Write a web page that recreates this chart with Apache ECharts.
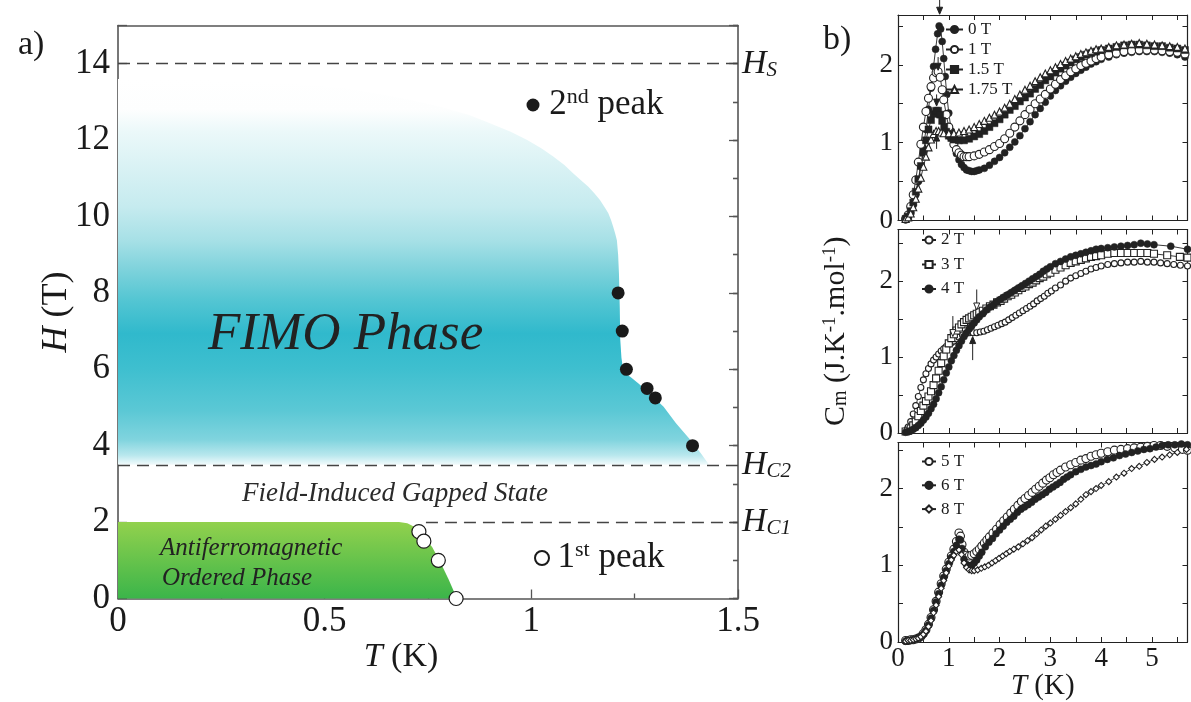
<!DOCTYPE html>
<html><head><meta charset="utf-8">
<script src="https://cdn.jsdelivr.net/npm/echarts@6/dist/echarts.min.js"></script>
<style>html,body{margin:0;padding:0;background:#fff}#c{width:1191px;height:702px}</style>
</head><body><div id="c"></div>
<script>
// ---------------- DATA ----------------
// Panel a) phase diagram (T in K, H in T)
const peak2nd = [[1.21, 8.0], [1.22, 7.0], [1.23, 6.0], [1.28, 5.5], [1.30, 5.25], [1.39, 4.0]];
const peak1st = [[0.728, 1.75], [0.74, 1.5], [0.775, 1.0], [0.818, 0.0]];
const fimoBoundary = [[0, 13.6], [0.2, 13.58], [0.35, 13.52], [0.46, 13.45], [0.55, 13.36], [0.626, 13.22], [0.7, 13.07], [0.78, 12.87], [0.85, 12.66], [0.9, 12.44], [0.95, 12.22], [0.99, 12.0], [1.025, 11.78], [1.053, 11.57], [1.08, 11.35], [1.101, 11.13], [1.12, 10.95], [1.138, 10.78], [1.153, 10.6], [1.166, 10.43], [1.177, 10.25], [1.186, 10.09], [1.193, 9.9], [1.198, 9.73], [1.203, 9.55], [1.207, 9.38], [1.21, 9.0], [1.212, 8.51], [1.214, 7.6], [1.215, 6.8], [1.218, 6.3], [1.222, 6.0], [1.23, 5.87], [1.24, 5.8], [1.26, 5.62], [1.29, 5.33], [1.32, 5.02], [1.35, 4.59], [1.385, 4.15], [1.41, 3.8], [1.43, 3.5]];
const fimoBase = 3.5;
const afmBoundary = [[0, 2], [0.68, 2], [0.70, 1.97], [0.72, 1.86], [0.74, 1.62], [0.76, 1.35], [0.78, 0.95], [0.80, 0.5], [0.82, 0]];
const afmBase = 0;
const fieldHS = 14, fieldHC2 = 3.5, fieldHC1 = 2;
const hc1Start = 0.745;
const hTicks = [0, 2, 4, 6, 8, 10, 12, 14];

// Panel b) specific heat Cm (J/K/mol) vs T (K)
const cm0T = [[0.15,0.01],[0.2,0.04],[0.25,0.1],[0.3,0.2],[0.35,0.33],[0.4,0.5],[0.45,0.7],[0.5,0.93],[0.55,1.17],[0.6,1.43],[0.65,1.7],[0.7,1.98],[0.74,2.2],[0.78,2.4],[0.81,2.5],[0.84,2.46],[0.87,2.3],[0.9,2.08],[0.93,1.85],[0.96,1.62],[1.0,1.38],[1.05,1.15],[1.1,0.98],[1.15,0.86],[1.2,0.78],[1.25,0.72],[1.3,0.68],[1.35,0.65],[1.4,0.64],[1.45,0.63],[1.5,0.63],[1.55,0.64],[1.6,0.65],[1.7,0.67],[1.8,0.71],[1.9,0.76],[2.0,0.81],[2.1,0.87],[2.2,0.94],[2.3,1.01],[2.4,1.09],[2.5,1.18],[2.6,1.27],[2.7,1.36],[2.8,1.44],[2.9,1.52],[3.0,1.6],[3.1,1.67],[3.2,1.73],[3.3,1.79],[3.4,1.84],[3.5,1.89],[3.6,1.93],[3.7,1.97],[3.8,2.01],[3.9,2.04],[4.0,2.07],[4.15,2.1],[4.3,2.13],[4.45,2.15],[4.6,2.16],[4.75,2.17],[4.9,2.17],[5.05,2.17],[5.2,2.16],[5.35,2.15],[5.5,2.13],[5.65,2.1]];
const cm1T = [[0.15,0.02],[0.2,0.07],[0.25,0.18],[0.3,0.33],[0.35,0.52],[0.4,0.75],[0.45,0.98],[0.5,1.2],[0.55,1.4],[0.6,1.57],[0.65,1.72],[0.7,1.83],[0.75,1.9],[0.79,1.91],[0.83,1.84],[0.87,1.68],[0.9,1.55],[0.95,1.36],[1.0,1.2],[1.05,1.07],[1.1,0.98],[1.15,0.91],[1.2,0.87],[1.25,0.84],[1.3,0.82],[1.35,0.82],[1.4,0.82],[1.5,0.83],[1.6,0.85],[1.7,0.88],[1.8,0.91],[1.9,0.95],[2.0,0.99],[2.1,1.05],[2.2,1.12],[2.3,1.2],[2.4,1.28],[2.5,1.36],[2.6,1.43],[2.7,1.5],[2.8,1.56],[2.9,1.62],[3.0,1.69],[3.1,1.75],[3.2,1.81],[3.3,1.86],[3.4,1.91],[3.5,1.95],[3.6,1.99],[3.7,2.02],[3.8,2.05],[3.9,2.08],[4.0,2.1],[4.15,2.13],[4.3,2.15],[4.45,2.17],[4.6,2.18],[4.75,2.19],[4.9,2.19],[5.05,2.19],[5.2,2.18],[5.35,2.17],[5.5,2.16],[5.65,2.14]];
const cm15T = [[0.15,0.02],[0.2,0.05],[0.25,0.12],[0.3,0.23],[0.35,0.37],[0.4,0.53],[0.45,0.7],[0.5,0.87],[0.55,1.03],[0.6,1.17],[0.65,1.29],[0.7,1.37],[0.75,1.41],[0.79,1.41],[0.83,1.36],[0.87,1.28],[0.91,1.2],[0.95,1.14],[1.0,1.09],[1.05,1.06],[1.1,1.04],[1.2,1.03],[1.3,1.03],[1.4,1.05],[1.5,1.08],[1.6,1.11],[1.7,1.15],[1.8,1.2],[1.9,1.25],[2.0,1.3],[2.1,1.36],[2.2,1.42],[2.3,1.47],[2.4,1.53],[2.5,1.58],[2.6,1.63],[2.7,1.69],[2.8,1.74],[2.9,1.8],[3.0,1.85],[3.1,1.9],[3.2,1.95],[3.3,1.99],[3.4,2.03],[3.5,2.07],[3.6,2.1],[3.7,2.13],[3.8,2.15],[3.9,2.17],[4.0,2.19],[4.15,2.21],[4.3,2.23],[4.45,2.25],[4.6,2.26],[4.75,2.26],[4.9,2.25],[5.05,2.24],[5.2,2.24],[5.35,2.22],[5.5,2.21],[5.65,2.19]];
const cm175T = [[0.15,0.02],[0.2,0.04],[0.25,0.09],[0.3,0.17],[0.35,0.28],[0.4,0.41],[0.45,0.55],[0.5,0.69],[0.55,0.82],[0.6,0.94],[0.65,1.04],[0.7,1.11],[0.75,1.15],[0.8,1.15],[0.85,1.13],[0.9,1.12],[1.0,1.12],[1.1,1.12],[1.2,1.13],[1.3,1.15],[1.4,1.17],[1.5,1.2],[1.6,1.24],[1.7,1.28],[1.8,1.32],[1.9,1.36],[2.0,1.4],[2.1,1.45],[2.2,1.5],[2.3,1.56],[2.4,1.62],[2.5,1.68],[2.6,1.73],[2.7,1.79],[2.8,1.84],[2.9,1.89],[3.0,1.93],[3.1,1.97],[3.2,2.01],[3.3,2.05],[3.4,2.08],[3.5,2.11],[3.6,2.14],[3.7,2.16],[3.8,2.18],[3.9,2.2],[4.0,2.21],[4.15,2.23],[4.3,2.25],[4.45,2.26],[4.6,2.27],[4.75,2.28],[4.9,2.27],[5.05,2.26],[5.2,2.25],[5.35,2.24],[5.5,2.23],[5.65,2.21]];
const cm2T = [[0.15,0.03],[0.2,0.08],[0.25,0.15],[0.3,0.25],[0.35,0.36],[0.4,0.48],[0.45,0.6],[0.5,0.7],[0.55,0.78],[0.6,0.85],[0.65,0.91],[0.7,0.96],[0.75,1.0],[0.8,1.04],[0.85,1.08],[0.9,1.11],[0.95,1.14],[1.0,1.17],[1.05,1.19],[1.1,1.21],[1.15,1.24],[1.2,1.26],[1.27,1.29],[1.34,1.31],[1.41,1.32],[1.48,1.32],[1.55,1.32],[1.62,1.33],[1.69,1.34],[1.76,1.36],[1.83,1.38],[1.9,1.4],[1.97,1.42],[2.04,1.44],[2.11,1.46],[2.18,1.49],[2.25,1.52],[2.32,1.55],[2.39,1.58],[2.46,1.61],[2.53,1.64],[2.6,1.67],[2.67,1.7],[2.74,1.74],[2.81,1.77],[2.88,1.8],[2.95,1.84],[3.02,1.87],[3.1,1.91],[3.2,1.95],[3.3,2.0],[3.4,2.04],[3.5,2.07],[3.6,2.1],[3.7,2.13],[3.8,2.16],[3.9,2.18],[4.0,2.2],[4.13,2.22],[4.26,2.23],[4.39,2.24],[4.52,2.25],[4.65,2.25],[4.78,2.26],[4.91,2.25],[5.04,2.25],[5.17,2.24],[5.3,2.23],[5.43,2.22],[5.56,2.21],[5.7,2.2]];
const cm3T = [[0.15,0.02],[0.2,0.03],[0.25,0.06],[0.3,0.1],[0.35,0.15],[0.4,0.22],[0.45,0.29],[0.5,0.36],[0.55,0.42],[0.6,0.48],[0.65,0.55],[0.7,0.63],[0.75,0.72],[0.8,0.82],[0.85,0.92],[0.9,1.01],[0.95,1.1],[1.0,1.18],[1.05,1.25],[1.1,1.3],[1.15,1.35],[1.2,1.39],[1.25,1.43],[1.3,1.46],[1.35,1.49],[1.4,1.51],[1.45,1.53],[1.5,1.55],[1.55,1.57],[1.6,1.59],[1.67,1.61],[1.74,1.64],[1.81,1.67],[1.88,1.69],[1.95,1.72],[2.02,1.74],[2.09,1.77],[2.16,1.8],[2.23,1.82],[2.3,1.85],[2.37,1.88],[2.44,1.91],[2.51,1.93],[2.58,1.96],[2.65,1.98],[2.72,2.01],[2.79,2.04],[2.86,2.06],[2.93,2.09],[3.0,2.11],[3.1,2.15],[3.2,2.18],[3.3,2.21],[3.4,2.24],[3.5,2.26],[3.6,2.28],[3.7,2.3],[3.8,2.32],[3.9,2.33],[4.0,2.34],[4.13,2.36],[4.26,2.37],[4.39,2.37],[4.52,2.37],[4.65,2.37],[4.78,2.37],[4.91,2.37],[5.04,2.36],[5.3,2.34],[5.55,2.32],[5.7,2.31]];
const cm4T = [[0.15,0.01],[0.2,0.02],[0.25,0.03],[0.3,0.05],[0.35,0.07],[0.4,0.1],[0.45,0.13],[0.5,0.17],[0.55,0.21],[0.6,0.26],[0.65,0.32],[0.7,0.38],[0.75,0.45],[0.8,0.53],[0.85,0.61],[0.9,0.7],[0.95,0.79],[1.0,0.87],[1.05,0.95],[1.1,1.02],[1.15,1.09],[1.2,1.15],[1.25,1.21],[1.3,1.27],[1.35,1.32],[1.4,1.37],[1.45,1.41],[1.5,1.45],[1.55,1.49],[1.6,1.53],[1.67,1.57],[1.74,1.62],[1.81,1.66],[1.88,1.69],[1.95,1.73],[2.02,1.76],[2.09,1.79],[2.16,1.82],[2.23,1.85],[2.3,1.88],[2.37,1.91],[2.44,1.94],[2.51,1.97],[2.58,2.0],[2.65,2.03],[2.72,2.06],[2.79,2.09],[2.86,2.13],[2.93,2.16],[3.0,2.19],[3.1,2.23],[3.2,2.26],[3.3,2.29],[3.4,2.32],[3.5,2.34],[3.6,2.36],[3.7,2.38],[3.8,2.4],[3.9,2.42],[4.0,2.43],[4.13,2.44],[4.26,2.45],[4.39,2.46],[4.52,2.47],[4.65,2.48],[4.78,2.5],[4.91,2.49],[5.04,2.48],[5.37,2.46],[5.7,2.42]];
const cm5T = [[0.15,0.02],[0.2,0.02],[0.25,0.03],[0.3,0.03],[0.35,0.04],[0.4,0.05],[0.45,0.07],[0.5,0.11],[0.55,0.16],[0.6,0.23],[0.65,0.32],[0.7,0.42],[0.75,0.53],[0.8,0.65],[0.85,0.76],[0.9,0.86],[0.95,0.95],[1.0,1.04],[1.05,1.12],[1.1,1.21],[1.15,1.31],[1.2,1.42],[1.23,1.38],[1.26,1.27],[1.3,1.17],[1.35,1.13],[1.4,1.12],[1.45,1.13],[1.5,1.15],[1.55,1.18],[1.6,1.21],[1.65,1.25],[1.7,1.29],[1.75,1.33],[1.8,1.37],[1.87,1.42],[1.94,1.47],[2.01,1.53],[2.08,1.58],[2.15,1.63],[2.22,1.68],[2.29,1.73],[2.36,1.78],[2.43,1.83],[2.5,1.87],[2.57,1.91],[2.64,1.95],[2.71,1.99],[2.78,2.03],[2.85,2.07],[2.92,2.11],[2.99,2.14],[3.06,2.18],[3.13,2.21],[3.2,2.24],[3.3,2.28],[3.4,2.31],[3.5,2.34],[3.6,2.37],[3.7,2.39],[3.8,2.42],[3.9,2.44],[4.0,2.46],[4.13,2.48],[4.26,2.5],[4.39,2.51],[4.52,2.52],[4.65,2.53],[4.78,2.54],[4.91,2.55],[5.04,2.56],[5.17,2.56],[5.3,2.55],[5.45,2.53],[5.6,2.51],[5.7,2.5]];
const cm6T = [[0.15,0.01],[0.2,0.02],[0.25,0.02],[0.3,0.03],[0.35,0.04],[0.4,0.05],[0.45,0.07],[0.5,0.1],[0.55,0.15],[0.6,0.22],[0.65,0.31],[0.7,0.41],[0.75,0.52],[0.8,0.63],[0.85,0.74],[0.9,0.84],[0.95,0.93],[1.0,1.02],[1.05,1.1],[1.1,1.18],[1.15,1.26],[1.2,1.34],[1.23,1.33],[1.26,1.22],[1.3,1.08],[1.35,1.01],[1.4,0.99],[1.45,1.0],[1.5,1.03],[1.55,1.07],[1.6,1.12],[1.65,1.17],[1.72,1.24],[1.79,1.3],[1.86,1.35],[1.93,1.41],[2.0,1.46],[2.07,1.51],[2.14,1.56],[2.21,1.6],[2.28,1.64],[2.35,1.69],[2.42,1.73],[2.49,1.76],[2.56,1.79],[2.63,1.82],[2.7,1.86],[2.77,1.89],[2.84,1.92],[2.91,1.95],[2.98,1.99],[3.05,2.02],[3.12,2.05],[3.19,2.08],[3.26,2.12],[3.33,2.15],[3.4,2.18],[3.5,2.22],[3.6,2.25],[3.7,2.28],[3.8,2.3],[3.9,2.32],[4.0,2.35],[4.12,2.38],[4.24,2.4],[4.36,2.43],[4.48,2.45],[4.6,2.47],[4.72,2.49],[4.84,2.51],[4.96,2.52],[5.08,2.54],[5.2,2.56],[5.32,2.57],[5.45,2.57],[5.58,2.58],[5.7,2.57]];
const cm8T = [[0.15,0.01],[0.2,0.02],[0.25,0.02],[0.3,0.03],[0.35,0.04],[0.4,0.05],[0.45,0.07],[0.5,0.1],[0.55,0.14],[0.6,0.2],[0.65,0.28],[0.7,0.38],[0.75,0.48],[0.8,0.59],[0.85,0.7],[0.9,0.8],[0.95,0.9],[1.0,0.99],[1.05,1.07],[1.1,1.13],[1.15,1.18],[1.2,1.2],[1.25,1.14],[1.3,1.03],[1.35,0.97],[1.4,0.94],[1.45,0.93],[1.5,0.93],[1.57,0.94],[1.64,0.96],[1.71,0.98],[1.78,1.0],[1.85,1.03],[1.92,1.06],[1.99,1.09],[2.06,1.12],[2.13,1.15],[2.2,1.18],[2.28,1.21],[2.37,1.24],[2.46,1.28],[2.55,1.32],[2.64,1.36],[2.73,1.41],[2.82,1.46],[2.91,1.51],[3.0,1.55],[3.1,1.6],[3.2,1.65],[3.3,1.7],[3.4,1.75],[3.5,1.8],[3.6,1.86],[3.7,1.92],[3.8,1.96],[3.9,2.0],[4.0,2.04],[4.15,2.09],[4.3,2.15],[4.45,2.2],[4.6,2.26],[4.75,2.29],[4.9,2.34],[5.05,2.38],[5.2,2.41],[5.35,2.44],[5.5,2.47],[5.68,2.51]];
// transition arrows: [T, from Cm, to Cm, open head (1) / filled (0)]
const arrowsTop = [[0.82, 2.84, 2.65, 0], [0.79, 2.10, 1.93, 0], [0.76, 1.62, 1.47, 0], [0.76, 0.92, 1.11, 0]];
const arrowsMid = [[1.08, 1.54, 1.27, 1], [1.55, 1.89, 1.62, 1], [1.47, 0.96, 1.27, 0]];
const tTicks = [0, 1, 2, 3, 4, 5];
const cmTicks = [0, 1, 2];

// ---------------- STYLE ----------------
const SERIF = '"Liberation Serif", "Times New Roman", serif';
const INK = '#1a1a1a';
const AX = '#555';

const chart = echarts.init(document.getElementById('c'), null, {renderer: 'canvas'});

function polygonRenderer(boundary, base, stops) {
  return function (params, api) {
    const pts = boundary.map(p => api.coord(p));
    const last = boundary[boundary.length - 1];
    pts.push(api.coord([last[0], base]));
    pts.push(api.coord([boundary[0][0], base]));
    return {type: 'polygon', shape: {points: pts},
      style: {fill: {type: 'linear', x: 0, y: 0, x2: 0, y2: 1, colorStops: stops}}};
  };
}
function arrowRenderer(params, api) {
  const t = api.value(0), c1 = api.value(1), c2 = api.value(2), open = api.value(3);
  const p1 = api.coord([t, c1]), p2 = api.coord([t, c2]);
  const dir = p2[1] > p1[1] ? 1 : -1;
  const hl = 7, hw = 3;
  const by = p2[1] - dir * hl;
  return {type: 'group', children: [
    {type: 'line', shape: {x1: p1[0], y1: p1[1], x2: p2[0], y2: by}, style: {stroke: '#222', lineWidth: 1}},
    {type: 'polygon', shape: {points: [[p2[0], p2[1]], [p2[0] - hw, by], [p2[0] + hw, by]]},
      style: {fill: open ? '#fff' : '#222', stroke: '#222', lineWidth: 1}}
  ]};
}
const isInt = v => Math.abs(v - Math.round(v)) < 1e-6;

// ---------- axes ----------
const xAxes = [
  {gridIndex: 0, type: 'value', min: 0, max: 1.5, interval: 0.5,
    axisLine: {onZero: false, lineStyle: {color: AX, width: 1.6}},
    axisTick: {inside: true, length: 9, lineStyle: {color: AX, width: 1.3}},
    minorTick: {show: true, splitNumber: 2, length: 5, lineStyle: {color: AX, width: 1.3}},
    splitLine: {show: false},
    axisLabel: {fontSize: 35, fontFamily: SERIF, color: INK, margin: 6},
    name: '{i|T} (K)', nameLocation: 'middle', nameGap: 42, nameMoveOverlap: false,
    nameTextStyle: {fontSize: 34, fontFamily: SERIF, color: INK, padding: [0, 54, 0, 0],
      rich: {i: {fontSize: 34, fontFamily: SERIF, fontStyle: 'italic', color: INK}}}},
  {gridIndex: 0, type: 'value', position: 'top', min: 0, max: 1.5, interval: 0.5,
    axisLine: {onZero: false, lineStyle: {color: AX, width: 1.6}}, axisTick: {show: false},
    axisLabel: {show: false}, splitLine: {show: false}}
];
const yAxes = [
  {gridIndex: 0, type: 'value', min: 0, max: 15, interval: 2,
    axisLine: {onZero: false, lineStyle: {color: AX, width: 1.6}},
    axisTick: {inside: true, length: 9, lineStyle: {color: AX, width: 1.3}},
    splitLine: {show: false},
    axisLabel: {fontSize: 35, fontFamily: SERIF, color: INK, margin: 8,
      formatter: v => hTicks.indexOf(v) >= 0 ? String(v) : ''},
    name: '{i|H} (T)', nameLocation: 'middle', nameRotate: 90, nameGap: 43, nameMoveOverlap: false,
    nameTextStyle: {fontSize: 36, fontFamily: SERIF, color: INK,
      rich: {i: {fontSize: 36, fontFamily: SERIF, fontStyle: 'italic', color: INK}}}},
  {gridIndex: 0, type: 'value', min: 0, max: 15, interval: 1,
    axisLine: {show: false, onZero: false}, axisTick: {inside: true, length: 5, lineStyle: {color: AX, width: 1.3}},
    axisLabel: {show: false}, splitLine: {show: false}},
  {gridIndex: 0, type: 'value', position: 'right', min: 0, max: 15, interval: 2,
    axisLine: {onZero: false, lineStyle: {color: AX, width: 1.6}},
    axisTick: {inside: true, length: 9, lineStyle: {color: AX, width: 1.3}},
    axisLabel: {show: false}, splitLine: {show: false}},
  {gridIndex: 0, type: 'value', position: 'right', min: 0, max: 15, interval: 1,
    axisLine: {show: false, onZero: false}, axisTick: {inside: true, length: 5, lineStyle: {color: AX, width: 1.3}},
    axisLabel: {show: false}, splitLine: {show: false}}
];
const panelMax = [2.64, 2.68, 2.6];
for (let g = 1; g <= 3; g++) {
  const last = g === 3;
  xAxes.push({gridIndex: g, type: 'value', min: 0, max: 5.7, interval: 0.5,
    axisLine: {onZero: false, lineStyle: {color: '#222', width: 1.2}},
    axisTick: {inside: true, length: 5, lineStyle: {color: '#222'}},
    splitLine: {show: false},
    axisLabel: {show: last, fontSize: 27, fontFamily: SERIF, color: INK, margin: 3,
      formatter: v => (isInt(v) && tTicks.indexOf(Math.round(v)) >= 0) ? String(Math.round(v)) : ''},
    name: last ? '{i|T} (K)' : '', nameLocation: 'middle', nameGap: 30, nameMoveOverlap: false,
    nameTextStyle: {fontSize: 29, fontFamily: SERIF, color: INK,
      rich: {i: {fontSize: 29, fontFamily: SERIF, fontStyle: 'italic', color: INK}}}});
  xAxes.push({gridIndex: g, type: 'value', position: 'top', min: 0, max: 5.7, interval: 0.5,
    axisLine: {onZero: false, lineStyle: {color: '#222', width: 1.2}},
    axisTick: {inside: true, length: 5, lineStyle: {color: '#222'}},
    axisLabel: {show: false}, splitLine: {show: false}});
  yAxes.push({gridIndex: g, type: 'value', min: 0, max: panelMax[g - 1], interval: 0.5,
    axisLine: {onZero: false, lineStyle: {color: '#222', width: 1.2}},
    axisTick: {inside: true, length: 5, lineStyle: {color: '#222'}},
    splitLine: {show: false},
    axisLabel: {fontSize: 27, fontFamily: SERIF, color: INK, margin: 5,
      formatter: v => (isInt(v) && cmTicks.indexOf(Math.round(v)) >= 0) ? String(Math.round(v)) : ''},
    name: g === 2 ? '{n|C}{sb|m}{n| (J.K}{sp|-1}{n|.mol}{sp|-1}{n|)}' : '',
    nameLocation: 'middle', nameRotate: 90, nameGap: 47, nameMoveOverlap: false,
    nameTextStyle: {fontSize: 30, fontFamily: SERIF, color: INK,
      rich: {n: {fontSize: 30, fontFamily: SERIF, color: INK},
             sb: {fontSize: 20, fontFamily: SERIF, color: INK, verticalAlign: 'bottom'},
             sp: {fontSize: 19, fontFamily: SERIF, color: INK, verticalAlign: 'top'}}}});
  yAxes.push({gridIndex: g, type: 'value', position: 'right', min: 0, max: panelMax[g - 1], interval: 0.5,
    axisLine: {onZero: false, lineStyle: {color: '#222', width: 1.2}},
    axisTick: {inside: true, length: 5, lineStyle: {color: '#222'}},
    axisLabel: {show: false}, splitLine: {show: false}});
}

// ---------- series ----------
const lineBase = {type: 'line', symbolSize: 6, showAllSymbol: true, animation: false,
  lineStyle: {color: '#222', width: 0.9}};
function cmSeries(name, data, grid, symbol, size, open) {
  return Object.assign({}, lineBase, {
    name, data, xAxisIndex: 2 + (grid - 1) * 2, yAxisIndex: 4 + (grid - 1) * 2,
    symbol, symbolSize: size,
    itemStyle: open ? {color: '#fff', borderColor: '#222', borderWidth: 1.1} : {color: '#222', borderColor: '#222', borderWidth: 0.5}
  });
}

const hLabelRich = {
  h: {fontSize: 34, fontFamily: SERIF, fontStyle: 'italic', color: INK, lineHeight: 34},
  s: {fontSize: 21, fontFamily: SERIF, fontStyle: 'italic', color: INK, verticalAlign: 'bottom', lineHeight: 21}
};

const series = [
  {type: 'custom', name: 'FIMO', xAxisIndex: 0, yAxisIndex: 0, z: 1, silent: true,
    data: [[0, fimoBase]],
    renderItem: polygonRenderer(fimoBoundary, fimoBase, [
      {offset: 0, color: '#ffffff'}, {offset: 0.08, color: '#fdfefe'}, {offset: 0.14, color: '#eaf8f9'},
      {offset: 0.33, color: '#c6ebef'}, {offset: 0.42, color: '#a6e0e6'}, {offset: 0.49, color: '#80d3dc'},
      {offset: 0.57, color: '#55c6d3'}, {offset: 0.66, color: '#30b9cc'}, {offset: 0.75, color: '#3ebfcf'},
      {offset: 0.86, color: '#5bc8d5'}, {offset: 0.935, color: '#80d4de'}, {offset: 0.975, color: '#b8e7ed'},
      {offset: 1, color: '#f2fbfc'}]),
    markLine: {silent: true, symbol: ['none', 'none'], animation: false,
      lineStyle: {color: '#444', width: 1.3, type: [12, 7]},
      label: {show: true, position: 'end', distance: 4, rich: hLabelRich},
      data: [
        {yAxis: fieldHS, label: {formatter: '{h|H}{s|S}'}},
        {yAxis: fieldHC2, label: {formatter: '{h|H}{s|C2}'}},
        [{coord: [hc1Start, fieldHC1]}, {coord: [1.5, fieldHC1], label: {formatter: '{h|H}{s|C1}'}}]
      ]}},
  {type: 'custom', name: 'AFM', xAxisIndex: 0, yAxisIndex: 0, z: 2, silent: true,
    data: [[0, afmBase]],
    renderItem: polygonRenderer(afmBoundary, afmBase, [
      {offset: 0, color: '#92d14d'}, {offset: 1, color: '#3bb54a'}])},
  {type: 'scatter', name: '2nd peak', xAxisIndex: 0, yAxisIndex: 0, z: 5, data: peak2nd,
    symbol: 'circle', symbolSize: 13, itemStyle: {color: '#1a1a1a', opacity: 1}, animation: false},
  {type: 'scatter', name: '1st peak', xAxisIndex: 0, yAxisIndex: 0, z: 5, data: peak1st,
    symbol: 'circle', symbolSize: 14, itemStyle: {color: '#fff', borderColor: '#1a1a1a', borderWidth: 1.2, opacity: 1}, animation: false},
  cmSeries('0 T', cm0T, 1, 'circle', 7, false),
  cmSeries('1 T', cm1T, 1, 'circle', 8, true),
  cmSeries('1.5 T', cm15T, 1, 'rect', 7, false),
  cmSeries('1.75 T', cm175T, 1, 'triangle', 7, true),
  cmSeries('2 T', cm2T, 2, 'circle', 6, true),
  cmSeries('3 T', cm3T, 2, 'rect', 7, true),
  cmSeries('4 T', cm4T, 2, 'circle', 7, false),
  cmSeries('5 T', cm5T, 3, 'circle', 8, true),
  cmSeries('6 T', cm6T, 3, 'circle', 7, false),
  cmSeries('8 T', cm8T, 3, 'diamond', 6, true),
  {type: 'custom', name: 'arrowsTop', xAxisIndex: 2, yAxisIndex: 4, z: 6, silent: true, clip: false,
    data: arrowsTop, renderItem: arrowRenderer},
  {type: 'custom', name: 'arrowsMid', xAxisIndex: 4, yAxisIndex: 6, z: 6, silent: true, clip: false,
    data: arrowsMid, renderItem: arrowRenderer}
];

const peakRich = {
  n: {fontSize: 35, fontFamily: SERIF, color: INK, lineHeight: 38},
  s: {fontSize: 22, fontFamily: SERIF, color: INK, verticalAlign: 'top', lineHeight: 38}
};
const smallLegendText = {fontSize: 17, fontFamily: SERIF, color: INK, lineHeight: 17};

const option = {
  backgroundColor: '#fff',
  animation: false,
  grid: [
    {left: 118, right: 453, top: 25.5, bottom: 103.5},
    {left: 898, right: 3.5, top: 15, bottom: 481.5},
    {left: 898, right: 3.5, top: 229.5, bottom: 269},
    {left: 898, right: 3.5, top: 442.5, bottom: 56}
  ],
  xAxis: xAxes,
  yAxis: yAxes,
  legend: [
    {data: ['2nd peak'], left: 526.5, top: 86, padding: 0, itemWidth: 22.5, itemHeight: 13, selectedMode: false,
      formatter: () => '{n|2}{s|nd}{n| peak}', textStyle: {rich: peakRich}},
    {data: ['1st peak'], left: 534, top: 539, padding: 0, itemWidth: 21, itemHeight: 14, selectedMode: false,
      formatter: () => '{n|1}{s|st}{n| peak}', textStyle: {rich: peakRich}},
    {data: ['0 T', '1 T', '1.5 T', '1.75 T'], orient: 'vertical', left: 945, top: 21, padding: 0, itemGap: 3,
      itemWidth: 17, itemHeight: 9, selectedMode: false, textStyle: smallLegendText},
    {data: ['2 T', '3 T', '4 T'], orient: 'vertical', left: 921, top: 231.5, padding: 0, itemGap: 7.5,
      itemWidth: 14, itemHeight: 9, selectedMode: false, textStyle: smallLegendText},
    {data: ['5 T', '6 T', '8 T'], orient: 'vertical', left: 921, top: 453, padding: 0, itemGap: 6.8,
      itemWidth: 14, itemHeight: 9, selectedMode: false, textStyle: smallLegendText}
  ],
  graphic: [
    {type: 'text', x: 18, y: 45, silent: true, style: {text: 'a)', fontSize: 34, fontFamily: SERIF, fill: INK, verticalAlign: 'middle'}},
    {type: 'text', x: 823, y: 40, silent: true, style: {text: 'b)', fontSize: 34, fontFamily: SERIF, fill: INK, verticalAlign: 'middle'}},
    {type: 'text', x: 208, y: 335, z: 10, silent: true, style: {text: 'FIMO Phase', fontSize: 53, fontStyle: 'italic', fontFamily: SERIF, fill: '#222', verticalAlign: 'middle'}},
    {type: 'text', x: 395, y: 494, z: 10, silent: true, style: {text: 'Field-Induced Gapped State', fontSize: 27, fontStyle: 'italic', fontFamily: SERIF, fill: '#2a2a2a', align: 'center', verticalAlign: 'middle'}},
    {type: 'text', x: 160, y: 548, z: 10, silent: true, style: {text: 'Antiferromagnetic', fontSize: 25, fontStyle: 'italic', fontFamily: SERIF, fill: '#222', verticalAlign: 'middle'}},
    {type: 'text', x: 162, y: 578, z: 10, silent: true, style: {text: 'Ordered Phase', fontSize: 25, fontStyle: 'italic', fontFamily: SERIF, fill: '#222', verticalAlign: 'middle'}}
  ],
  series: series
};
chart.setOption(option);
</script></body></html>
